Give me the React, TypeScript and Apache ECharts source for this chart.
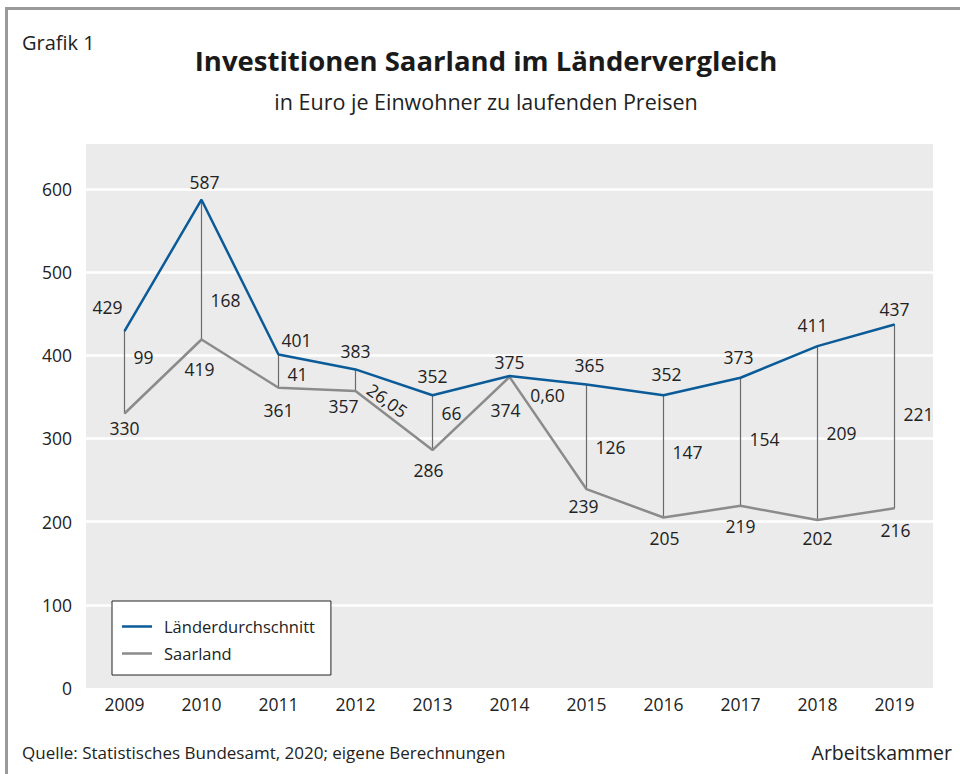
import React, { useEffect, useRef } from "react";
import * as echarts from "echarts";

const years = ["2009", "2010", "2011", "2012", "2013", "2014", "2015", "2016", "2017", "2018", "2019"];
const laenderValues = [429, 587, 401, 383, 352, 375, 365, 352, 373, 411, 437];
const saarlandValues = [330, 419, 361, 357, 286, 374, 239, 205, 219, 202, 216];
const differenceLabels = ["99", "168", "41", "26,05", "66", "0,60", "126", "147", "154", "209", "221"];
const yTicks = [0, 100, 200, 300, 400, 500, 600];

// label layout (offsets in px), kept apart from the data
const laenderLabelOffsets = [[-17, -10], [3, -3], [18, 0], [0, -4], [0, -5], [0, 0], [3, -5], [3, -7], [-2, -6], [-5, -7], [0, -1]];
const saarLabelOffsets = [[0, 0], [-2, 15], [0, 8], [-12, 0], [-4, 5], [-4, 19], [-3, 2], [1, 6], [0, 6], [0, 4], [1, 7]];
const diffLabelLayout = [
  { dx: 9, dy: -15, rot: 0, align: "left" },
  { dx: 9, dy: 30, rot: 0, align: "left" },
  { dx: 9, dy: 3, rot: 0, align: "left" },
  { dx: 32, dy: 20, rot: -0.62, align: "center" },
  { dx: 9, dy: -10, rot: 0, align: "left" },
  { dx: 38, dy: 19, rot: 0, align: "center" },
  { dx: 9, dy: 10, rot: 0, align: "left" },
  { dx: 9, dy: -4, rot: 0, align: "left" },
  { dx: 9, dy: -3, rot: 0, align: "left" },
  { dx: 9, dy: 0, rot: 0, align: "left" },
  { dx: 9, dy: -2, rot: 0, align: "left" },
];

const FONT = "'Open Sans', 'Noto Sans', sans-serif";
const TEXT = "#222";
const BLUE = "#0a5b98";
const GRAY = "#8b8b8b";
const NUM = 17.5;

export default function App() {
  const ref = useRef<HTMLDivElement>(null);

  useEffect(() => {
    if (!ref.current) return;
    const chart = echarts.init(ref.current, undefined, { renderer: "svg" });

    const option: any = {
      animation: false,
      backgroundColor: "#ffffff",
      textStyle: { fontFamily: FONT },
      graphic: [
        { type: "line", shape: { x1: 5, y1: 8.5, x2: 960, y2: 8.5 }, style: { stroke: "#9a9a9a", lineWidth: 3 } },
        { type: "line", shape: { x1: 6.5, y1: 7, x2: 6.5, y2: 774 }, style: { stroke: "#9a9a9a", lineWidth: 3 } },
        { type: "text", x: 22, y: 42, style: { text: "Grafik 1", font: `20px ${FONT}`, fill: TEXT, verticalAlign: "middle" } },
        { type: "text", x: 486, y: 60, style: { text: "Investitionen Saarland im Ländervergleich", font: `bold 27.5px ${FONT}`, fill: "#1a1a1a", align: "center", verticalAlign: "middle" } },
        { type: "text", x: 486, y: 101, style: { text: "in Euro je Einwohner zu laufenden Preisen", font: `21.5px ${FONT}`, fill: TEXT, align: "center", verticalAlign: "middle" } },
        { type: "text", x: 22, y: 752, style: { text: "Quelle: Statistisches Bundesamt, 2020; eigene Berechnungen", font: `17px ${FONT}`, fill: TEXT, verticalAlign: "middle" } },
        { type: "text", x: 952, y: 752, style: { text: "Arbeitskammer", font: `19.5px ${FONT}`, fill: TEXT, align: "right", verticalAlign: "middle" } },
      ],
      legend: {
        orient: "vertical",
        left: 112,
        top: 601,
        data: ["Länderdurchschnitt", "Saarland"],
        backgroundColor: "#ffffff",
        borderColor: "#222",
        borderWidth: 1,
        borderRadius: 0,
        padding: [17, 16, 13, 10],
        itemGap: 10,
        itemWidth: 30,
        itemHeight: 2.5,
        icon: "rect",
        textStyle: { fontSize: 16.5, color: TEXT, fontFamily: FONT, padding: [0, 0, 0, 7] },
      },
      grid: {
        left: 86,
        right: 27,
        top: 144,
        bottom: 86,
        show: true,
        backgroundColor: "#ebebeb",
        borderWidth: 0,
      },
      xAxis: {
        type: "category",
        data: years,
        boundaryGap: true,
        axisLine: { show: false },
        axisTick: { show: false },
        axisLabel: { fontSize: NUM, color: TEXT, fontFamily: FONT, margin: 7 },
      },
      yAxis: {
        type: "value",
        min: 0,
        max: 654,
        interval: 100,
        axisLine: { show: false },
        axisTick: { show: false },
        axisLabel: {
          fontSize: NUM,
          color: TEXT,
          fontFamily: FONT,
          margin: 14,
          formatter: (v: number) => (yTicks.includes(v) ? String(v) : ""),
        },
        splitLine: { show: true, showMinLine: false, showMaxLine: false, lineStyle: { color: "#ffffff", width: 2.5 } },
      },
      series: [
        {
          type: "custom",
          name: "Differenz",
          silent: true,
          z: 1,
          encode: { x: 0, y: [1, 2] },
          data: years.map((_, i) => [i, laenderValues[i], saarlandValues[i]]),
          renderItem: (params: any, api: any) => {
            const i = api.value(0);
            const top = api.coord([i, api.value(1)]);
            const bot = api.coord([i, api.value(2)]);
            const lay = diffLabelLayout[i];
            return {
              type: "group",
              children: [
                {
                  type: "line",
                  shape: { x1: top[0], y1: top[1], x2: bot[0], y2: bot[1] },
                  style: { stroke: "#6a6a6a", lineWidth: 1.2 },
                },
                {
                  type: "text",
                  x: top[0] + lay.dx,
                  y: (top[1] + bot[1]) / 2 + lay.dy,
                  rotation: lay.rot,
                  style: {
                    text: differenceLabels[i],
                    fill: TEXT,
                    font: `${NUM}px ${FONT}`,
                    align: lay.align,
                    verticalAlign: "middle",
                  },
                },
              ],
            };
          },
        },
        {
          type: "line",
          name: "Länderdurchschnitt",
          z: 3,
          showSymbol: true,
          symbol: "circle",
          symbolSize: 1,
          lineStyle: { color: BLUE, width: 2.5 },
          itemStyle: { color: BLUE },
          data: laenderValues.map((v, i) => ({
            value: v,
            label: { show: true, position: "top", distance: 5, offset: laenderLabelOffsets[i] },
          })),
          label: { show: true, fontSize: NUM, color: TEXT, fontFamily: FONT },
        },
        {
          type: "line",
          name: "Saarland",
          z: 2,
          showSymbol: true,
          symbol: "circle",
          symbolSize: 1,
          lineStyle: { color: GRAY, width: 2.5 },
          itemStyle: { color: GRAY },
          data: saarlandValues.map((v, i) => ({
            value: v,
            label: { show: true, position: "bottom", distance: 5, offset: saarLabelOffsets[i] },
          })),
          label: { show: true, fontSize: NUM, color: TEXT, fontFamily: FONT },
        },
      ],
    };

    chart.setOption(option);
    return () => chart.dispose();
  }, []);

  return <div ref={ref} style={{ position: "absolute", left: 0, top: 0, width: 960, height: 774 }} />;
}
